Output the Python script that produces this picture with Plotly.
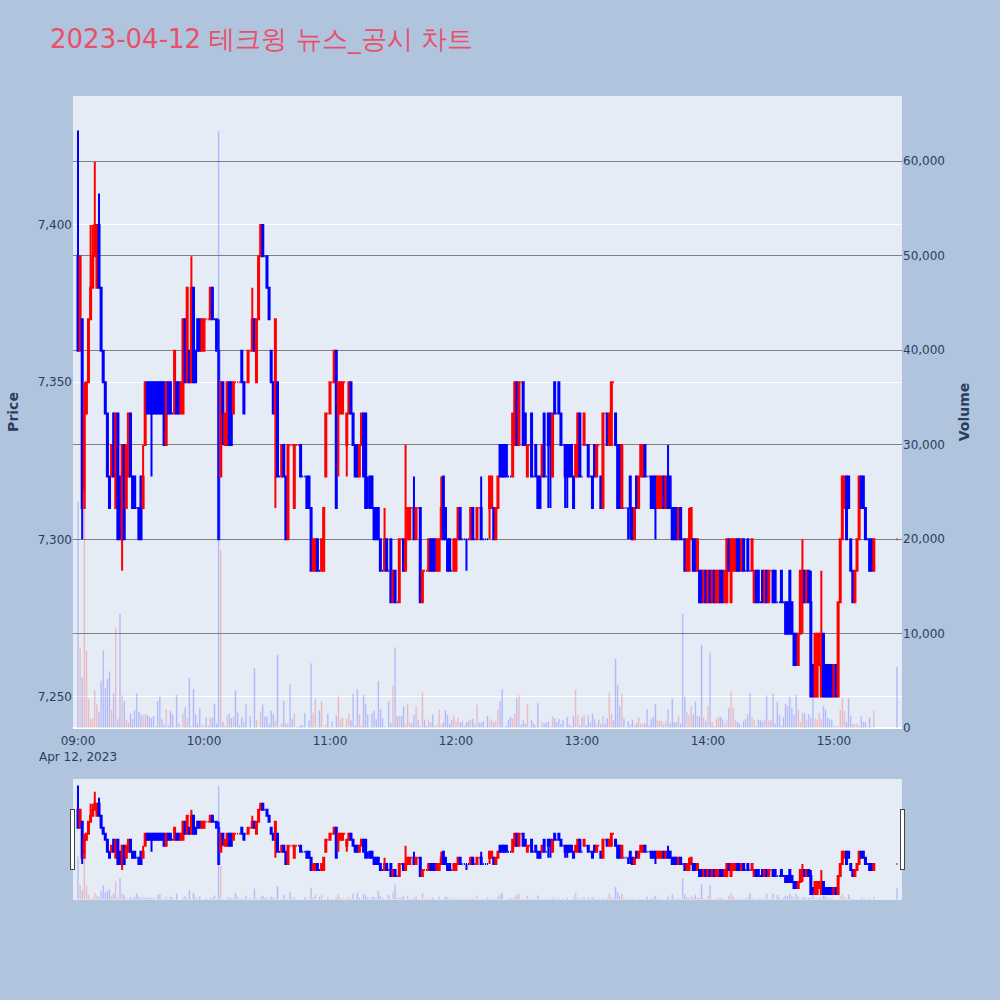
import pandas as pd
import plotly.graph_objects as go
from plotly.subplots import make_subplots

# 1-minute bars, 09:00 - 09:00+379min, plus the 15:30 closing auction bar
times = list(pd.date_range("2023-04-12 09:00", periods=380, freq="min")) + [pd.Timestamp("2023-04-12 15:30")]

open_p = [
    7390, 7360, 7370, 7310, 7340, 7350, 7370, 7380, 7390, 7380,
    7400, 7380, 7360, 7350, 7340, 7320, 7320, 7340, 7310, 7340,
    7320, 7300, 7330, 7310, 7320, 7340, 7320, 7320, 7310, 7310,
    7320, 7310, 7330, 7350, 7350, 7350, 7350, 7350, 7350, 7350,
    7350, 7350, 7330, 7350, 7350, 7340, 7340, 7350, 7350, 7340,
    7340, 7370, 7350, 7360, 7350, 7380, 7360, 7370, 7370, 7360,
    7360, 7370, 7370, 7370, 7380, 7370, 7370, 7360, 7320, 7350,
    7330, 7330, 7350, 7350, 7340, 7350, 7350, 7350, 7360, 7350,
    7350, 7350, 7360, 7360, 7370, 7350, 7370, 7390, 7400, 7390,
    7390, 7380, 7360, 7350, 7340, 7350, 7320, 7320, 7330, 7320,
    7300, 7330, 7330, 7310, 7330, 7330, 7330, 7320, 7320, 7320,
    7320, 7310, 7290, 7290, 7300, 7290, 7290, 7290, 7320, 7340,
    7340, 7350, 7350, 7360, 7340, 7340, 7340, 7350, 7330, 7340,
    7350, 7340, 7330, 7330, 7320, 7330, 7340, 7340, 7310, 7320,
    7320, 7310, 7310, 7310, 7300, 7290, 7290, 7300, 7290, 7300,
    7280, 7290, 7280, 7280, 7300, 7300, 7290, 7300, 7300, 7310,
    7310, 7300, 7310, 7310, 7280, 7290, 7290, 7290, 7300, 7300,
    7300, 7290, 7290, 7300, 7320, 7310, 7300, 7300, 7290, 7290,
    7290, 7300, 7310, 7300, 7300, 7300, 7300, 7300, 7310, 7300,
    7300, 7310, 7310, 7300, 7300, 7300, 7310, 7310, 7310, 7300,
    7310, 7330, 7330, 7330, 7330, 7320, 7320, 7320, 7330, 7350,
    7330, 7350, 7350, 7340, 7320, 7330, 7340, 7320, 7330, 7320,
    7320, 7320, 7340, 7320, 7340, 7340, 7320, 7350, 7340, 7350,
    7340, 7330, 7330, 7330, 7330, 7330, 7320, 7320, 7320, 7340,
    7320, 7330, 7330, 7330, 7320, 7320, 7330, 7320, 7330, 7320,
    7310, 7340, 7340, 7330, 7330, 7350, 7340, 7330, 7330, 7310,
    7310, 7310, 7310, 7320, 7310, 7300, 7320, 7310, 7320, 7320,
    7330, 7320, 7320, 7320, 7320, 7320, 7310, 7310, 7310, 7320,
    7310, 7320, 7320, 7310, 7310, 7310, 7300, 7310, 7300, 7300,
    7290, 7290, 7300, 7300, 7300, 7290, 7290, 7290, 7280, 7290,
    7280, 7290, 7280, 7290, 7280, 7280, 7290, 7290, 7280, 7280,
    7300, 7280, 7290, 7290, 7300, 7300, 7290, 7300, 7290, 7300,
    7290, 7290, 7280, 7290, 7290, 7280, 7290, 7280, 7290, 7280,
    7290, 7290, 7290, 7280, 7280, 7290, 7280, 7280, 7280, 7290,
    7280, 7270, 7270, 7260, 7270, 7280, 7290, 7280, 7290, 7280,
    7260, 7250, 7250, 7260, 7250, 7270, 7260, 7260, 7260, 7260,
    7250, 7260, 7250, 7280, 7300, 7310, 7320, 7320, 7300, 7290,
    7280, 7290, 7300, 7320, 7320, 7310, 7300, 7300, 7300, 7290,
    7300,
]

high_p = [
    7430, 7390, 7370, 7350, 7350, 7370, 7400, 7400, 7420, 7400,
    7410, 7380, 7360, 7350, 7340, 7320, 7330, 7340, 7340, 7340,
    7320, 7330, 7330, 7330, 7340, 7340, 7320, 7320, 7310, 7310,
    7320, 7330, 7350, 7350, 7350, 7350, 7350, 7350, 7350, 7350,
    7350, 7350, 7350, 7350, 7350, 7340, 7360, 7350, 7350, 7350,
    7370, 7370, 7380, 7360, 7390, 7380, 7360, 7370, 7370, 7370,
    7370, 7370, 7370, 7380, 7380, 7370, 7370, 7370, 7350, 7350,
    7340, 7350, 7350, 7350, 7350, 7350, 7350, 7350, 7360, 7350,
    7350, 7360, 7360, 7380, 7370, 7370, 7390, 7400, 7400, 7390,
    7390, 7380, 7360, 7350, 7370, 7350, 7320, 7330, 7330, 7320,
    7330, 7330, 7330, 7330, 7330, 7330, 7330, 7320, 7320, 7320,
    7320, 7310, 7300, 7300, 7300, 7290, 7300, 7310, 7340, 7340,
    7350, 7350, 7360, 7360, 7350, 7350, 7350, 7350, 7340, 7350,
    7350, 7340, 7330, 7330, 7330, 7340, 7340, 7340, 7320, 7320,
    7320, 7310, 7310, 7310, 7300, 7290, 7310, 7300, 7290, 7300,
    7290, 7290, 7280, 7300, 7300, 7300, 7330, 7310, 7310, 7310,
    7320, 7310, 7310, 7310, 7290, 7290, 7290, 7300, 7300, 7300,
    7300, 7300, 7300, 7320, 7320, 7310, 7300, 7300, 7290, 7300,
    7300, 7310, 7310, 7300, 7300, 7300, 7300, 7310, 7310, 7300,
    7310, 7310, 7320, 7300, 7300, 7300, 7320, 7320, 7310, 7310,
    7320, 7330, 7330, 7330, 7330, 7320, 7320, 7340, 7350, 7350,
    7350, 7350, 7350, 7340, 7330, 7330, 7340, 7320, 7330, 7320,
    7320, 7330, 7340, 7320, 7340, 7340, 7340, 7350, 7340, 7350,
    7340, 7330, 7330, 7330, 7330, 7330, 7320, 7330, 7340, 7340,
    7320, 7340, 7330, 7330, 7320, 7320, 7330, 7330, 7330, 7320,
    7340, 7340, 7340, 7340, 7350, 7350, 7340, 7330, 7330, 7330,
    7310, 7310, 7310, 7320, 7310, 7310, 7320, 7320, 7330, 7330,
    7330, 7320, 7320, 7320, 7320, 7320, 7320, 7320, 7320, 7320,
    7320, 7330, 7320, 7310, 7310, 7310, 7310, 7310, 7300, 7300,
    7300, 7310, 7310, 7300, 7300, 7300, 7290, 7290, 7290, 7290,
    7290, 7290, 7290, 7290, 7290, 7290, 7290, 7290, 7290, 7300,
    7300, 7300, 7300, 7300, 7300, 7300, 7300, 7300, 7290, 7300,
    7290, 7300, 7290, 7290, 7290, 7280, 7290, 7290, 7290, 7290,
    7290, 7290, 7290, 7280, 7280, 7290, 7280, 7280, 7280, 7290,
    7280, 7270, 7270, 7270, 7290, 7300, 7290, 7290, 7290, 7290,
    7260, 7270, 7270, 7270, 7290, 7270, 7260, 7260, 7260, 7260,
    7260, 7260, 7280, 7300, 7320, 7320, 7320, 7320, 7300, 7290,
    7290, 7300, 7320, 7320, 7320, 7310, 7300, 7300, 7300, 7300,
    7300,
]

low_p = [
    7360, 7360, 7300, 7310, 7340, 7350, 7370, 7380, 7390, 7380,
    7380, 7360, 7350, 7340, 7320, 7310, 7320, 7320, 7310, 7300,
    7300, 7290, 7300, 7310, 7320, 7320, 7310, 7310, 7310, 7300,
    7300, 7310, 7330, 7340, 7340, 7320, 7340, 7340, 7340, 7340,
    7340, 7330, 7330, 7340, 7340, 7340, 7340, 7340, 7340, 7340,
    7340, 7350, 7350, 7350, 7350, 7350, 7350, 7360, 7360, 7360,
    7360, 7370, 7370, 7370, 7370, 7370, 7360, 7300, 7320, 7330,
    7330, 7330, 7330, 7330, 7340, 7350, 7350, 7350, 7350, 7340,
    7350, 7350, 7360, 7360, 7360, 7350, 7370, 7390, 7390, 7390,
    7380, 7370, 7350, 7340, 7310, 7320, 7320, 7320, 7320, 7300,
    7300, 7330, 7330, 7310, 7330, 7330, 7320, 7320, 7320, 7310,
    7310, 7290, 7290, 7290, 7290, 7290, 7290, 7290, 7320, 7340,
    7340, 7350, 7350, 7310, 7320, 7340, 7340, 7350, 7320, 7340,
    7340, 7330, 7320, 7320, 7320, 7330, 7320, 7310, 7310, 7310,
    7310, 7300, 7300, 7300, 7290, 7290, 7290, 7290, 7290, 7280,
    7280, 7280, 7280, 7280, 7300, 7290, 7290, 7300, 7300, 7310,
    7300, 7300, 7310, 7280, 7280, 7290, 7290, 7290, 7290, 7290,
    7290, 7290, 7290, 7300, 7300, 7300, 7290, 7290, 7290, 7290,
    7290, 7300, 7300, 7300, 7300, 7290, 7300, 7300, 7300, 7300,
    7300, 7310, 7300, 7300, 7300, 7300, 7300, 7310, 7300, 7300,
    7310, 7320, 7320, 7320, 7320, 7320, 7320, 7320, 7330, 7330,
    7330, 7350, 7330, 7330, 7320, 7330, 7320, 7320, 7320, 7310,
    7310, 7320, 7320, 7320, 7310, 7310, 7320, 7340, 7340, 7340,
    7330, 7330, 7310, 7310, 7320, 7320, 7310, 7320, 7320, 7320,
    7320, 7330, 7330, 7320, 7320, 7310, 7320, 7320, 7330, 7310,
    7310, 7340, 7330, 7330, 7330, 7350, 7330, 7310, 7310, 7310,
    7310, 7310, 7300, 7300, 7300, 7300, 7310, 7310, 7320, 7320,
    7320, 7320, 7320, 7310, 7310, 7300, 7310, 7310, 7310, 7310,
    7310, 7310, 7310, 7300, 7300, 7300, 7300, 7300, 7300, 7290,
    7290, 7290, 7300, 7290, 7290, 7290, 7280, 7280, 7280, 7280,
    7280, 7280, 7280, 7280, 7280, 7280, 7280, 7280, 7280, 7280,
    7290, 7280, 7290, 7290, 7290, 7290, 7290, 7290, 7290, 7290,
    7290, 7290, 7280, 7280, 7280, 7280, 7280, 7280, 7280, 7280,
    7290, 7280, 7280, 7280, 7280, 7280, 7280, 7270, 7270, 7270,
    7270, 7260, 7260, 7260, 7270, 7270, 7280, 7280, 7280, 7250,
    7250, 7250, 7250, 7260, 7250, 7250, 7250, 7250, 7250, 7250,
    7250, 7250, 7250, 7280, 7300, 7310, 7300, 7310, 7290, 7280,
    7280, 7290, 7300, 7310, 7310, 7300, 7300, 7290, 7290, 7290,
    7300,
]

close_p = [
    7360, 7390, 7310, 7340, 7350, 7370, 7380, 7390, 7400, 7400,
    7380, 7360, 7350, 7340, 7320, 7310, 7330, 7320, 7340, 7300,
    7300, 7330, 7300, 7330, 7340, 7320, 7310, 7310, 7310, 7300,
    7300, 7320, 7350, 7340, 7340, 7340, 7340, 7340, 7340, 7340,
    7340, 7330, 7350, 7340, 7340, 7340, 7360, 7340, 7340, 7350,
    7370, 7350, 7380, 7350, 7380, 7350, 7350, 7360, 7360, 7370,
    7370, 7370, 7370, 7380, 7370, 7370, 7360, 7300, 7350, 7340,
    7340, 7350, 7330, 7330, 7350, 7350, 7350, 7350, 7350, 7340,
    7350, 7360, 7360, 7370, 7360, 7370, 7390, 7400, 7390, 7390,
    7380, 7370, 7350, 7340, 7370, 7320, 7320, 7330, 7320, 7300,
    7330, 7330, 7330, 7330, 7330, 7330, 7320, 7320, 7320, 7310,
    7310, 7290, 7300, 7300, 7290, 7290, 7300, 7310, 7340, 7340,
    7350, 7350, 7360, 7310, 7350, 7350, 7350, 7350, 7340, 7350,
    7340, 7330, 7320, 7320, 7330, 7340, 7320, 7310, 7310, 7310,
    7310, 7300, 7300, 7300, 7290, 7290, 7300, 7290, 7290, 7280,
    7290, 7280, 7280, 7300, 7300, 7290, 7300, 7310, 7310, 7310,
    7300, 7310, 7310, 7280, 7290, 7290, 7290, 7300, 7290, 7290,
    7290, 7300, 7300, 7310, 7300, 7300, 7290, 7290, 7290, 7300,
    7300, 7310, 7300, 7300, 7300, 7300, 7300, 7310, 7300, 7300,
    7310, 7310, 7300, 7300, 7300, 7300, 7320, 7320, 7300, 7310,
    7320, 7320, 7320, 7320, 7320, 7320, 7320, 7340, 7350, 7330,
    7350, 7350, 7330, 7330, 7330, 7330, 7320, 7320, 7320, 7310,
    7310, 7330, 7320, 7320, 7330, 7330, 7340, 7340, 7340, 7340,
    7330, 7330, 7320, 7320, 7320, 7320, 7310, 7330, 7340, 7320,
    7320, 7340, 7330, 7320, 7320, 7310, 7320, 7330, 7330, 7310,
    7340, 7340, 7330, 7340, 7350, 7350, 7330, 7310, 7310, 7330,
    7310, 7310, 7310, 7310, 7300, 7310, 7310, 7320, 7330, 7330,
    7320, 7320, 7320, 7310, 7310, 7310, 7320, 7320, 7320, 7310,
    7320, 7310, 7310, 7300, 7300, 7300, 7310, 7300, 7300, 7290,
    7300, 7300, 7310, 7290, 7290, 7300, 7280, 7280, 7290, 7280,
    7290, 7280, 7290, 7280, 7290, 7290, 7280, 7280, 7290, 7300,
    7290, 7300, 7300, 7300, 7290, 7290, 7300, 7290, 7290, 7290,
    7290, 7300, 7290, 7280, 7280, 7280, 7280, 7290, 7280, 7290,
    7290, 7280, 7280, 7280, 7280, 7280, 7280, 7270, 7270, 7270,
    7270, 7260, 7260, 7270, 7290, 7290, 7280, 7290, 7280, 7250,
    7250, 7270, 7270, 7270, 7260, 7250, 7250, 7250, 7250, 7250,
    7260, 7250, 7280, 7300, 7320, 7320, 7300, 7310, 7290, 7280,
    7290, 7300, 7320, 7310, 7310, 7300, 7300, 7290, 7290, 7300,
    7300,
]

volume = [
    24000, 8500, 5400, 25000, 8200, 3100, 1000, 1000, 4000, 2500,
    1700, 5000, 8250, 4300, 5200, 6000, 1900, 3700, 10650, 950,
    12100, 3500, 2900, 900, 600, 1550, 950, 1900, 3700, 1750,
    1450, 1400, 1400, 1400, 1200, 1050, 1250, 200, 2850, 3300,
    950, 400, 2000, 300, 1800, 1500, 150, 3500, 500, 100,
    1600, 2200, 1000, 5300, 200, 4100, 1500, 500, 2100, 400,
    250, 1100, 250, 1100, 1100, 2600, 500, 63200, 18800, 700,
    250, 1300, 1500, 1050, 1200, 4000, 1650, 350, 1150, 650,
    2550, 100, 1250, 100, 6350, 900, 100, 1700, 2500, 1250,
    1250, 400, 1850, 1500, 800, 7750, 100, 500, 2900, 500,
    500, 4650, 1000, 1600, 100, 100, 300, 300, 1600, 100,
    850, 6850, 1600, 3100, 100, 1900, 2850, 100, 400, 1500,
    100, 750, 100, 1350, 3350, 950, 1100, 100, 1000, 1500,
    850, 3650, 250, 4100, 1450, 250, 3500, 2550, 1450, 100,
    1600, 1850, 950, 5000, 2000, 1050, 150, 100, 2850, 600,
    4550, 8550, 1300, 1300, 1250, 2350, 350, 2600, 650, 500,
    1400, 2350, 900, 150, 3750, 900, 200, 900, 600, 1450,
    200, 450, 1950, 400, 650, 1900, 1400, 500, 900, 1350,
    750, 1100, 600, 750, 200, 600, 800, 900, 1000, 450,
    2450, 600, 600, 750, 100, 1300, 800, 900, 650, 750,
    1950, 2850, 4100, 100, 250, 900, 1200, 1000, 1500, 3200,
    3500, 400, 850, 500, 2550, 100, 850, 500, 250, 2650,
    100, 650, 500, 600, 700, 100, 1250, 1050, 650, 950,
    450, 900, 100, 1200, 400, 200, 1250, 4050, 1300, 300,
    1100, 1400, 300, 1350, 600, 1500, 950, 400, 900, 450,
    1250, 500, 1050, 3750, 1500, 800, 7350, 4600, 2350, 3600,
    1000, 100, 750, 350, 900, 300, 500, 1150, 500, 500,
    500, 2000, 300, 950, 1200, 2550, 800, 800, 750, 400,
    800, 2000, 500, 3100, 650, 600, 1250, 500, 12150, 3300,
    1700, 1400, 2350, 1450, 2850, 1300, 1250, 8800, 1150, 750,
    2350, 8000, 650, 200, 950, 1200, 1200, 950, 500, 800,
    2150, 3900, 2150, 850, 650, 500, 200, 800, 950, 1450,
    3650, 1200, 900, 200, 900, 850, 700, 900, 3450, 850,
    850, 3650, 500, 2800, 1400, 250, 1150, 2550, 2350, 3300,
    2150, 1400, 3500, 1950, 650, 1650, 1600, 900, 1450, 1150,
    3250, 1000, 900, 1600, 950, 2350, 2000, 1100, 950, 900,
    250, 150, 200, 1950, 3200, 1800, 650, 3150, 1300, 450,
    400, 500, 250, 1250, 650, 650, 100, 1100, 100, 1850,
    6500,
]

vol_colors = ["red" if c > o else "blue" for o, c in zip(open_p, close_p)]

fig = make_subplots(specs=[[{"secondary_y": True}]])

fig.add_trace(go.Candlestick(
    x=times, open=open_p, high=high_p, low=low_p, close=close_p,
    increasing=dict(line=dict(color="red"), fillcolor="red"),
    decreasing=dict(line=dict(color="blue"), fillcolor="blue"),
    name="Price", showlegend=False
), secondary_y=False)

fig.add_trace(go.Bar(
    x=times, y=volume, marker_color=vol_colors, opacity=0.25,
    name="Volume", showlegend=False
), secondary_y=True)

fig.update_layout(
    width=1000, height=1000,
    font=dict(family="DejaVu Sans"),
    title=dict(text="2023-04-12 테크윙 뉴스_공시 차트", font=dict(size=26, color="#E8506A")),
    paper_bgcolor="#B0C4DE",
    margin=dict(l=73, r=98, t=96, b=100),
    showlegend=False,
    xaxis=dict(
        domain=[0, 1],
        range=["2023-04-12 08:57:37", "2023-04-12 15:32:25"],
        showgrid=False,
        ticks="outside", ticklen=2, tickcolor="rgba(0,0,0,0)",
        rangeslider=dict(visible=True, thickness=0.15, bgcolor="#E5ECF6"),
    ),
)
fig.update_yaxes(title_text="<b>Price</b>", tickformat=",", range=[7240, 7441], secondary_y=False)
fig.update_yaxes(title_text="<b>Volume</b>", tickformat=",", range=[0, 66900],
                 gridcolor="gray", secondary_y=True)

# page has no body margin so the figure sits at the window corner
fig.write_html("out.html", config={"displayModeBar": False},
               post_script="document.body.style.margin='0px';")
